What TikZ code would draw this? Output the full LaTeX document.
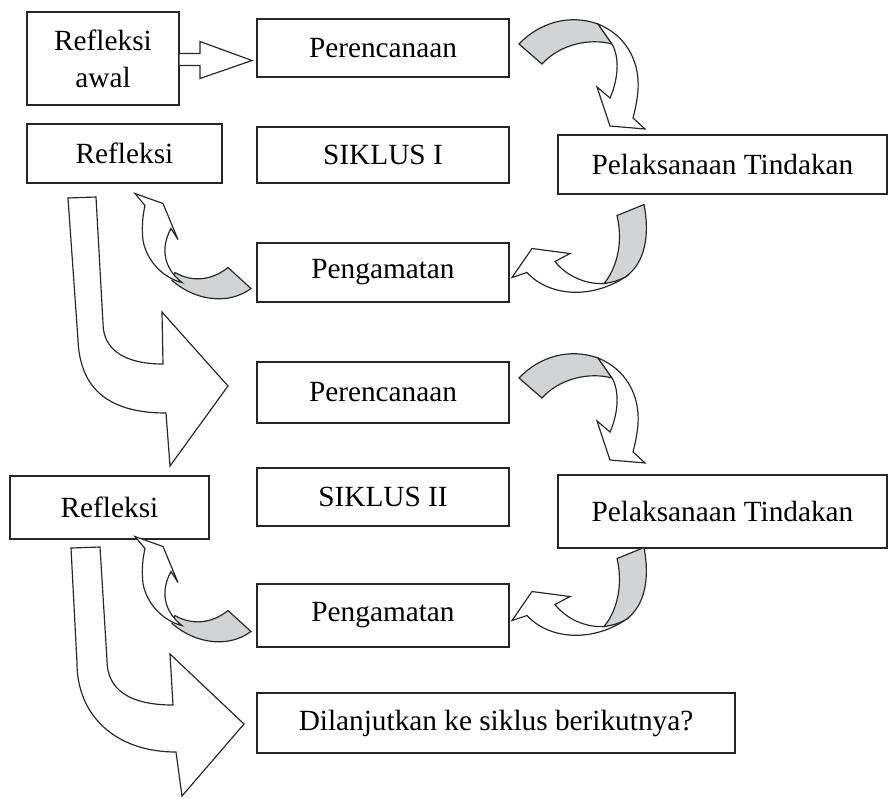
\documentclass[tikz,border=0pt]{standalone}
\usepackage{fontspec}
\setmainfont{Liberation Serif}
\usepackage{tikz}
\usetikzlibrary{positioning}
\definecolor{ribbongray}{RGB}{209,211,212}
\tikzset{
  %% Plain stage box
  cbox/.style={
    rectangle, draw=black!85, fill=white,
    line width=1.5pt, inner sep=2pt, outer sep=0pt,
    font=\fontsize{25}{31.5}\selectfont
  },
  %% Block arrow outline
  blockarr/.style={draw=black!85, fill=white,
                   line width=1pt, line join=miter},
  backside/.style={draw=black!85, fill=ribbongray,
                   line width=1pt},
  %% Ribbon arrow: Perencanaan -> Pelaksanaan
  pics/planarr/.style={code={
    \draw[backside] (10,-4) .. controls (31,-26) and (61,-34) .. (89,-24)
      -- (103,-4) .. controls (81,-10) and (51,-4) .. (33,16) -- cycle;
    \draw[blockarr] (89,-24) .. controls (116,-13) and (131,12) .. (129,42)
      .. controls (128,54) and (126,62) .. (124,70) -- (136,81) -- (101,78)
      -- (88,39) -- (101,50) .. controls (109,32) and (111,10) .. (103,-4)
      -- cycle;
  }},
  %% Ribbon arrow: Pelaksanaan -> Pengamatan
  pics/execarr/.style={code={
    \draw[blockarr] (95,11) .. controls (76,12) and (57,3) .. (46,-11)
      -- (61,-19) -- (23,-24) -- (3,5) -- (18,0)
      .. controls (39,23) and (81,28) .. (117,4) -- cycle;
    \draw[backside] (108,-57) -- (135,-68) .. controls (141,-37) and (136,-10) .. (117,4)
      .. controls (110,8) and (103,10) .. (95,11)
      .. controls (106,-2) and (115,-27) .. (108,-57) -- cycle;
  }},
  %% Ribbon arrow: Pengamatan -> Refleksi
  pics/obsarr/.style={code={
    \draw[backside] (-29,-5) -- (-6,16) .. controls (-29,33) and (-62,28) .. (-85,8)
      -- (-82,0) .. controls (-65,10) and (-45,8) .. (-29,-5) -- cycle;
    \draw[blockarr] (-122,-79) -- (-94,-69) -- (-79,-33) -- (-86,-44)
      .. controls (-97,-24) and (-93,-4) .. (-75,10)
      .. controls (-92,6) and (-110,-10) .. (-114,-32)
      .. controls (-116,-50) and (-113,-62) .. (-112,-67) -- cycle;
  }},
}

\begin{document}
\begin{tikzpicture}[x=0.03cm, y=-0.03cm]
  \useasboundingbox (0,0) rectangle (888,798);

  %% Cycle I
  \node[cbox, minimum width=4.56cm, minimum height=2.79cm, align=center]
    (r0) at (103,58.5) {Refleksi\\awal};
  \node[cbox, minimum width=7.56cm, minimum height=1.74cm]
    (p1) at (383,48) {Perencanaan};
  \node[cbox, minimum width=7.56cm, minimum height=1.68cm,
        below=1.5cm of p1] (s1) {SIKLUS I};
  \node[cbox, minimum width=5.85cm, minimum height=1.77cm]
    (r1) at (124.5,153.5) {Refleksi};
  \node[cbox, minimum width=9.87cm, minimum height=1.77cm]
    (t1) at (722.5,164.5) {Pelaksanaan Tindakan};
  \node[cbox, minimum width=7.56cm, minimum height=1.77cm,
        below=1.8cm of s1] (o1) {Pengamatan};

  %% Cycle II
  \node[cbox, minimum width=7.56cm, minimum height=1.83cm,
        below=1.8cm of o1] (p2) {Perencanaan};
  \node[cbox, minimum width=7.56cm, minimum height=1.74cm,
        below=1.35cm of p2] (s2) {SIKLUS II};
  \node[cbox, minimum width=5.97cm, minimum height=1.89cm]
    (r2) at (109.5,507.5) {Refleksi};
  \node[cbox, minimum width=9.87cm, minimum height=2.19cm]
    (t2) at (722.5,511.5) {Pelaksanaan Tindakan};
  \node[cbox, minimum width=7.56cm, minimum height=1.89cm,
        below=1.74cm of s2] (o2) {Pengamatan};
  \node[cbox, minimum width=14.34cm, minimum height=1.8cm,
        below=1.38cm of o2.south west, anchor=north west] (d)
    {Dilanjutkan ke siklus berikutnya?};

  %% Start arrow
  \draw[blockarr] (r0.east) ++(0,-5) -- ++(21,0) -- ++(0,-12) -- ++(52,19)
    -- ++(-52,18) -- ++(0,-13) -- ++(-21,0) -- cycle;

  %% Ribbon arrows round each cycle
  \pic at (p1.east) {planarr};
  \pic at (o1.east) {execarr};
  \pic at (o1.west) {obsarr};
  \pic at ([yshift=9pt]p2.east) {planarr};
  \pic at (o2.east) {execarr};
  \pic at (o2.west) {obsarr};

  %% Big turn arrows from Refleksi
  \draw[blockarr, shift={(r1.south west)}] (41,15) -- (69,14) -- (76,140)
    .. controls (76,167) and (98,181) .. (136,181) -- (135,129) -- (201,203)
    -- (143,283) -- (139,230) .. controls (83,230) and (53,207) .. (51,157)
    -- cycle;
  \draw[blockarr, shift={(r2.south west)}] (61,9) -- (90,8) -- (97,121)
    .. controls (97,151) and (120,166) .. (163,166) -- (160,115) -- (234,185)
    -- (172,257) -- (166,213) .. controls (105,213) and (67,176) .. (67,124)
    -- cycle;

\end{tikzpicture}
\end{document}
